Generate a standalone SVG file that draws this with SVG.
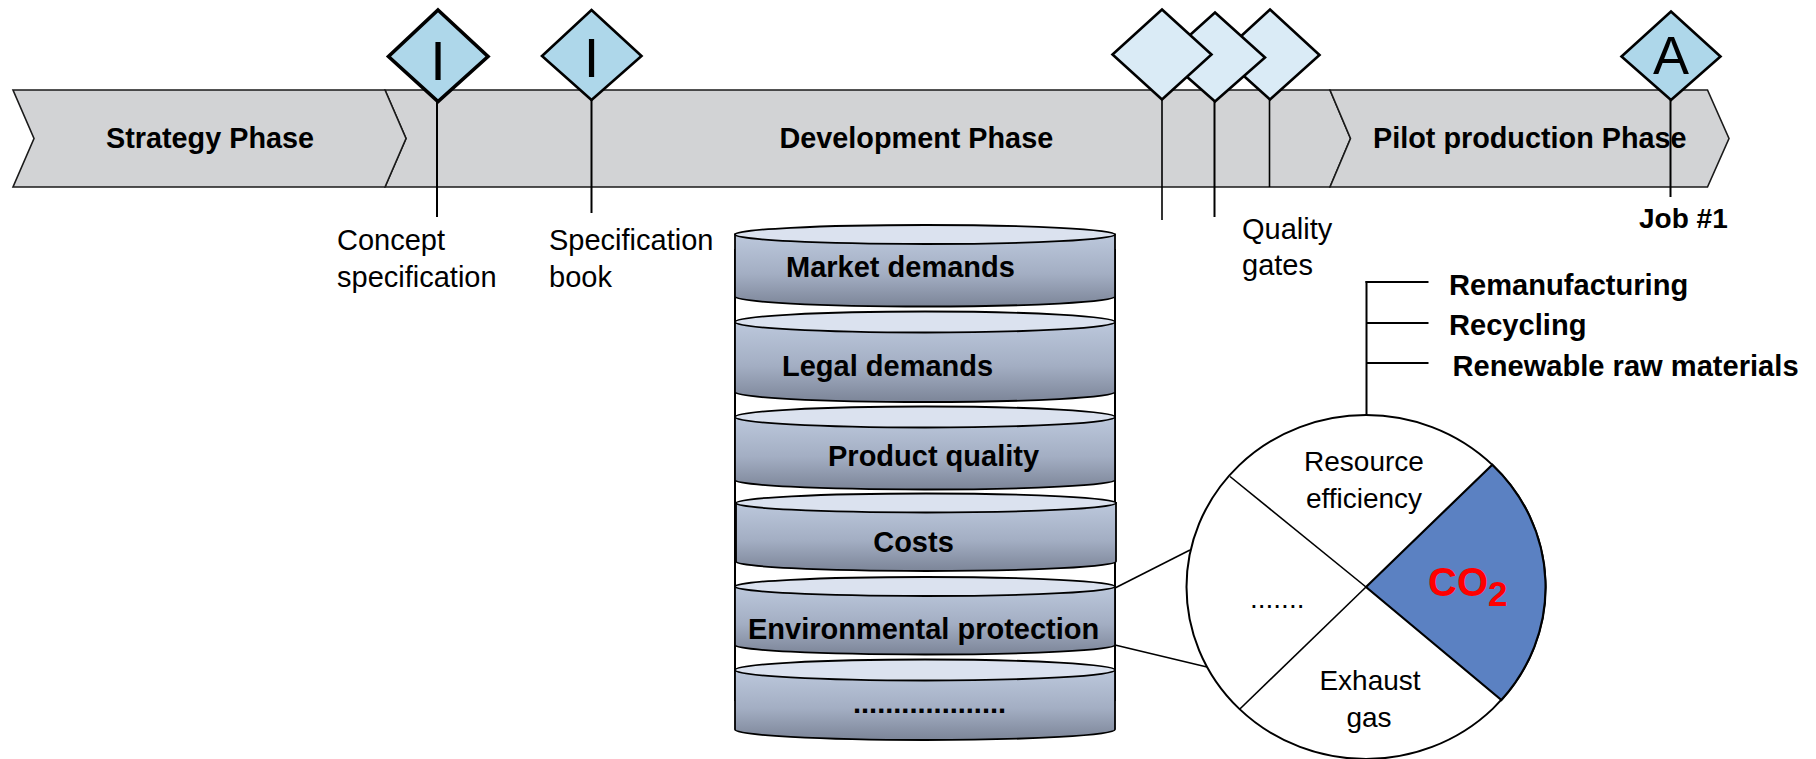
<svg xmlns="http://www.w3.org/2000/svg" width="1816" height="759" viewBox="0 0 1816 759">
  <defs>
    <linearGradient id="drumBody" x1="0" y1="0" x2="0" y2="1">
      <stop offset="0" stop-color="#BCC8DC"/>
      <stop offset="0.55" stop-color="#A3AEC3"/>
      <stop offset="1" stop-color="#7C8598"/>
    </linearGradient>
    <style>
      .phase { fill: #D2D3D5; stroke: #1a1a1a; stroke-width: 1.6; stroke-linejoin: miter; }
      .ms { fill: #AED7EA; stroke: #000; stroke-width: 2.6; stroke-linejoin: miter; }
      .qg { fill: #DAEBF6; stroke: #000; stroke-width: 2.6; stroke-linejoin: miter; }
      .line { stroke: #000; stroke-width: 2; fill: none; }
      .thin { stroke: #000; stroke-width: 1.6; fill: none; }
      .body { fill: url(#drumBody); stroke: #000; stroke-width: 1.8; }
      .lid { fill: #DBE2EF; stroke: #000; stroke-width: 1.8; }
      .b { font-family: "Liberation Sans", Arial, sans-serif; font-weight: bold; fill: #000; }
      .r { font-family: "Liberation Sans", Arial, sans-serif; fill: #000; }
      .ph { font-size: 28.8px; }
      .lbl { font-size: 29px; }
      .drum { font-size: 29px; }
      .pie { font-size: 28px; }
      .list { font-size: 29.1px; }
      .big { font-size: 56px; text-anchor: middle; }
    </style>
  </defs>

  <rect width="1816" height="759" fill="#fff"/>

  <!-- phase bar -->
  <g id="development-phase">
    <polygon class="phase" points="385,90 1330,90 1350.5,138.5 1330,187 385,187 406,138.5"/>
    <text class="b ph" x="779.5" y="148">Development Phase</text>
  </g>
  <g id="strategy-phase">
    <polygon class="phase" points="13,90 385,90 406,138.5 385,187 13,187 34,138.5"/>
    <text class="b ph" x="106" y="148">Strategy Phase</text>
  </g>
  <g id="pilot-phase">
    <polygon class="phase" points="1330,90 1707.5,90 1729,138.5 1707.5,187 1330,187 1350.5,138.5"/>
    <text class="b ph" x="1373" y="148">Pilot production Phase</text>
  </g>

  <!-- connectors -->
  <g id="connectors">
    <line class="line" x1="437" y1="100" x2="437" y2="217"/>
    <line class="line" x1="591.5" y1="98" x2="591.5" y2="213"/>
    <line class="thin" x1="1162" y1="98" x2="1162" y2="220"/>
    <line class="line" x1="1214.5" y1="100" x2="1214.5" y2="217"/>
    <line class="thin" x1="1269.5" y1="98" x2="1269.5" y2="187"/>
    <line class="line" x1="1670.5" y1="98" x2="1670.5" y2="197"/>
    <!-- resource efficiency branches -->
    <line class="line" x1="1366.5" y1="281" x2="1366.5" y2="415"/>
    <line class="line" x1="1365.5" y1="282" x2="1428.5" y2="282"/>
    <line class="line" x1="1366.5" y1="323" x2="1428.5" y2="323"/>
    <line class="line" x1="1366.5" y1="363" x2="1428.5" y2="363"/>
    <!-- environmental protection to detail circle -->
    <line class="thin" x1="1115" y1="588" x2="1190" y2="550"/>
    <line class="thin" x1="1115" y1="645" x2="1207" y2="667"/>
  </g>

  <!-- milestones -->
  <g id="concept-milestone">
    <polygon class="ms" style="stroke-width:3.6" points="438,10 488,56.5 438,101.5 388.5,56.5"/>
    <text class="r big" x="438" y="80">I</text>
    <text class="r lbl" x="337" y="250">Concept</text>
    <text class="r lbl" x="337" y="287">specification</text>
  </g>
  <g id="specification-milestone">
    <polygon class="ms" points="591.5,10 641.5,56 591.5,100 542,56"/>
    <text class="r big" x="591.5" y="77">I</text>
    <text class="r lbl" x="549" y="250">Specification</text>
    <text class="r lbl" x="549" y="287">book</text>
  </g>
  <g id="quality-gates">
    <polygon class="qg" points="1270,9.5 1319.5,55 1270,99.5 1220.5,55"/>
    <polygon class="qg" points="1215,12.5 1265,57.5 1215,101.5 1165,57.5"/>
    <polygon class="qg" points="1162,9.5 1211.5,54.5 1162,99.5 1112.5,54.5"/>
    <text class="r lbl" x="1242" y="239">Quality</text>
    <text class="r lbl" x="1242" y="275">gates</text>
  </g>
  <g id="job1-milestone">
    <polygon class="ms" points="1671,11.5 1720.5,56.5 1671,100 1621.5,56.5"/>
    <text class="r big" style="font-size:54px" x="1671" y="74">A</text>
    <text class="b" style="font-size:28px" x="1639" y="228">Job #1</text>
  </g>

  <!-- requirement stack -->
  <g id="requirement-stack">
    <rect x="735" y="250" width="380" height="450" fill="#fff" stroke="#000" stroke-width="2"/>
  </g>
  <g id="market-demands">
    <path class="body" d="M735,234.5 L735,296.5 A190,10 0 0 0 1115,296.5 L1115,234.5 Z"/>
    <ellipse class="lid" cx="925" cy="234.5" rx="190" ry="9.5"/>
    <text class="b drum" x="786" y="277">Market demands</text>
  </g>
  <g id="legal-demands">
    <path class="body" d="M735,322 L735,392 A190,10 0 0 0 1115,392 L1115,322 Z"/>
    <ellipse class="lid" cx="925" cy="322" rx="190" ry="10.5"/>
    <text class="b drum" x="782" y="376">Legal demands</text>
  </g>
  <g id="product-quality">
    <path class="body" d="M735,417 L735,480 A190,9.5 0 0 0 1115,480 L1115,417 Z"/>
    <ellipse class="lid" cx="925" cy="417" rx="190" ry="10.5"/>
    <text class="b drum" x="828" y="466">Product quality</text>
  </g>
  <g id="costs">
    <path class="body" d="M736,503 L736,561.5 A190,9.5 0 0 0 1116,561.5 L1116,503 Z"/>
    <ellipse class="lid" cx="926" cy="503" rx="190" ry="9.5"/>
    <text class="b drum" x="913.5" y="552" text-anchor="middle">Costs</text>
  </g>
  <g id="environmental-protection">
    <path class="body" d="M735,586.5 L735,645 A190,9.5 0 0 0 1115,645 L1115,586.5 Z"/>
    <ellipse class="lid" cx="925" cy="586.5" rx="190" ry="9.5"/>
    <text class="b drum" x="748" y="639">Environmental protection</text>
  </g>
  <g id="further-requirements">
    <path class="body" d="M735,670 L735,729.5 A190,10.5 0 0 0 1115,729.5 L1115,670 Z"/>
    <ellipse class="lid" cx="925" cy="670" rx="190" ry="10.5"/>
    <text class="b drum" x="853" y="712.5">...................</text>
  </g>

  <!-- environmental aspects -->
  <g id="environment-circle">
    <ellipse cx="1366" cy="587" rx="179.5" ry="172" fill="#fff" stroke="#000" stroke-width="2"/>
    <path d="M1366,587 L1492.3,464.7 A179.5,172 0 0 1 1501.4,700 Z" fill="#5B81C2" stroke="#000" stroke-width="2.2"/>
    <line class="thin" x1="1230" y1="476.5" x2="1366" y2="587"/>
    <line class="thin" x1="1366" y1="587" x2="1239.6" y2="709.3"/>
    <text class="r pie" x="1364" y="471" text-anchor="middle">Resource</text>
    <text class="r pie" x="1364" y="508" text-anchor="middle">efficiency</text>
    <text class="r pie" x="1370" y="690" text-anchor="middle">Exhaust</text>
    <text class="r pie" x="1369" y="727" text-anchor="middle">gas</text>
    <text class="r pie" x="1250" y="608">.......</text>
    <text class="b" x="1428" y="596" style="fill:#FF0000;font-size:40px">CO<tspan dy="10" style="font-size:35px">2</tspan></text>
  </g>

  <g id="resource-measures">
    <text class="b list" x="1449" y="295">Remanufacturing</text>
    <text class="b list" x="1449" y="335">Recycling</text>
    <text class="b list" x="1452.5" y="376">Renewable raw materials</text>
  </g>
</svg>
